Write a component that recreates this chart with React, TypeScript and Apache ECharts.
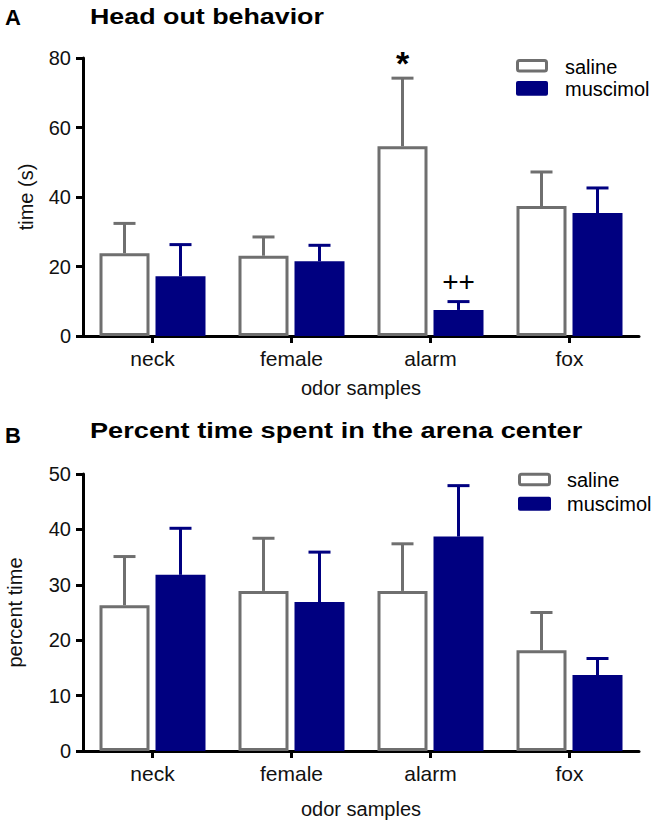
import React, { useEffect, useRef } from "react";
import * as echarts from "echarts";

const categories = ["neck", "female", "alarm", "fox"];

// Panel A: Head out behavior, time (s)
const headSalineMean = [23.8, 23.1, 54.6, 37.4];
const headSalineSem = [8.6, 5.4, 19.6, 9.8];
const headMuscimolMean = [17.2, 21.5, 7.5, 35.4];
const headMuscimolSem = [9.1, 4.6, 2.4, 7.2];
const headSalineMarks = ["", "", "*", ""];
const headMuscimolMarks = ["", "", "++", ""];

// Panel B: Percent time spent in the arena center
const centerSalineMean = [26.3, 28.9, 28.9, 18.2];
const centerSalineSem = [8.8, 9.5, 8.5, 6.8];
const centerMuscimolMean = [31.8, 26.9, 38.7, 13.7];
const centerMuscimolSem = [8.4, 9.0, 9.2, 3.0];
const centerSalineMarks = ["", "", "", ""];
const centerMuscimolMarks = ["", "", "", ""];

const headAxis = { min: 0, max: 80, interval: 20 };
const centerAxis = { min: 0, max: 50, interval: 10 };

const FONT = '"Liberation Sans", Arial, Helvetica, sans-serif';
const GRAY = "#6f6f6f";
const NAVY = "#000080";
const BAR_W = 50;
const HALF_STEP = 28;

const markStyles: Record<string, { size: number; weight: string; dy: number }> = {
  "*": { size: 34, weight: "bold", dy: -15 },
  "++": { size: 28, weight: "normal", dy: -20 },
};

function barSeries(name: string, idx: number, values: number[], filled: boolean) {
  return {
    type: "bar",
    name,
    xAxisIndex: idx,
    yAxisIndex: idx,
    data: values,
    barWidth: BAR_W,
    barGap: "12%",
    z: 3,
    silent: true,
    itemStyle: filled
      ? { color: NAVY, borderColor: NAVY, borderWidth: 3 }
      : { color: "#ffffff", borderColor: GRAY, borderWidth: 3 },
  };
}

function errorSeries(
  idx: number,
  means: number[],
  sems: number[],
  marks: string[],
  color: string,
  offset: number
) {
  return {
    type: "custom",
    xAxisIndex: idx,
    yAxisIndex: idx,
    data: means.map((m, i) => [i, m, m + sems[i]]),
    encode: { x: 0, y: [1, 2] },
    z: 2,
    silent: true,
    renderItem: (params: any, api: any) => {
      const i = api.value(0);
      const m = api.value(1);
      const t = api.value(2);
      const b = api.coord([i, m]);
      const tp = api.coord([i, t]);
      const x = b[0] + offset;
      const children: any[] = [
        {
          type: "line",
          shape: { x1: x, y1: b[1], x2: x, y2: tp[1] },
          style: { stroke: color, lineWidth: 3 },
        },
        {
          type: "line",
          shape: { x1: x - 11, y1: tp[1], x2: x + 11, y2: tp[1] },
          style: { stroke: color, lineWidth: 3 },
        },
      ];
      const mark = marks[params.dataIndex];
      if (mark) {
        const ms = markStyles[mark];
        children.push({
          type: "text",
          x,
          y: tp[1] + ms.dy,
          style: {
            text: mark,
            fill: "#000",
            font: `${ms.weight} ${ms.size}px ${FONT}`,
            align: "center",
            verticalAlign: "middle",
          },
        });
      }
      return { type: "group", children };
    },
  };
}

function xAxisCfg(gridIndex: number, nameGap: number) {
  return {
    type: "category",
    gridIndex,
    data: categories,
    name: "odor samples",
    nameLocation: "middle",
    nameGap,
    nameTextStyle: { fontSize: 20, color: "#111", fontFamily: FONT },
    axisLine: { show: true, lineStyle: { color: "#000", width: 3 } },
    axisTick: { show: true, alignWithLabel: true, length: 7, lineStyle: { color: "#000", width: 3 } },
    axisLabel: { fontSize: 21, color: "#111", fontFamily: FONT, margin: 12 },
    splitLine: { show: false },
  };
}

function yAxisCfg(gridIndex: number, name: string, ax: { min: number; max: number; interval: number }, nameGap: number) {
  return {
    type: "value",
    gridIndex,
    min: ax.min,
    max: ax.max,
    interval: ax.interval,
    name,
    nameLocation: "middle",
    nameGap,
    nameRotate: 90,
    nameTextStyle: { fontSize: 20, color: "#111", fontFamily: FONT },
    axisLine: { show: true, lineStyle: { color: "#000", width: 3 } },
    axisTick: { show: true, length: 7, lineStyle: { color: "#000", width: 3 } },
    axisLabel: { fontSize: 20, color: "#111", fontFamily: FONT, margin: 12 },
    splitLine: { show: false },
  };
}

function textEl(text: string, x: number, y: number, size: number, bold: boolean, scaleX = 1) {
  return {
    type: "text",
    x,
    y,
    scaleX,
    silent: true,
    style: {
      text,
      fill: "#000",
      font: `${bold ? "bold " : ""}${size}px ${FONT}`,
      align: "left",
      verticalAlign: "middle",
    },
  };
}

export default function App() {
  const ref = useRef<HTMLDivElement>(null);
  useEffect(() => {
    if (!ref.current) return;
    const chart = echarts.init(ref.current, undefined, { renderer: "svg" });
    chart.setOption({
      animation: false,
      backgroundColor: "#ffffff",
      grid: [
        { left: 83, top: 58, width: 556, height: 278, containLabel: false, outerBoundsMode: "none" },
        { left: 83, top: 474, width: 556, height: 277, containLabel: false, outerBoundsMode: "none" },
      ],
      xAxis: [xAxisCfg(0, 42), xAxisCfg(1, 48)],
      yAxis: [yAxisCfg(0, "time (s)", headAxis, 47), yAxisCfg(1, "percent time", centerAxis, 58)],
      series: [
        barSeries("saline", 0, headSalineMean, false),
        barSeries("muscimol", 0, headMuscimolMean, true),
        errorSeries(0, headSalineMean, headSalineSem, headSalineMarks, GRAY, -HALF_STEP),
        errorSeries(0, headMuscimolMean, headMuscimolSem, headMuscimolMarks, NAVY, HALF_STEP),
        barSeries("saline", 1, centerSalineMean, false),
        barSeries("muscimol", 1, centerMuscimolMean, true),
        errorSeries(1, centerSalineMean, centerSalineSem, centerSalineMarks, GRAY, -HALF_STEP),
        errorSeries(1, centerMuscimolMean, centerMuscimolSem, centerMuscimolMarks, NAVY, HALF_STEP),
      ],
      graphic: [
        textEl("A", 5, 17.3, 22, true),
        textEl("Head out behavior", 90, 16.8, 22, true, 1.22),
        textEl("B", 5, 435.6, 22, true),
        textEl("Percent time spent in the arena center", 90, 430.6, 22, true, 1.235),
        // legend A
        { type: "rect", silent: true, shape: { x: 517.5, y: 60.5, width: 29, height: 10.5, r: 2 }, style: { fill: "#fff", stroke: GRAY, lineWidth: 3 } },
        { type: "rect", silent: true, shape: { x: 516, y: 81, width: 32, height: 14.7, r: 2 }, style: { fill: NAVY } },
        textEl("saline", 565, 67, 20, false),
        textEl("muscimol", 565, 89, 20, false),
        // legend B
        { type: "rect", silent: true, shape: { x: 519.5, y: 474.2, width: 30, height: 10.5, r: 2 }, style: { fill: "#fff", stroke: GRAY, lineWidth: 3 } },
        { type: "rect", silent: true, shape: { x: 518, y: 496.7, width: 33, height: 14, r: 2 }, style: { fill: NAVY } },
        textEl("saline", 567, 479.7, 20, false),
        textEl("muscimol", 567, 503.7, 20, false),
      ],
    });
    return () => chart.dispose();
  }, []);
  return (
    <div
      ref={ref}
      style={{ position: "absolute", left: 0, top: 0, width: 661, height: 828, background: "#fff" }}
    />
  );
}
